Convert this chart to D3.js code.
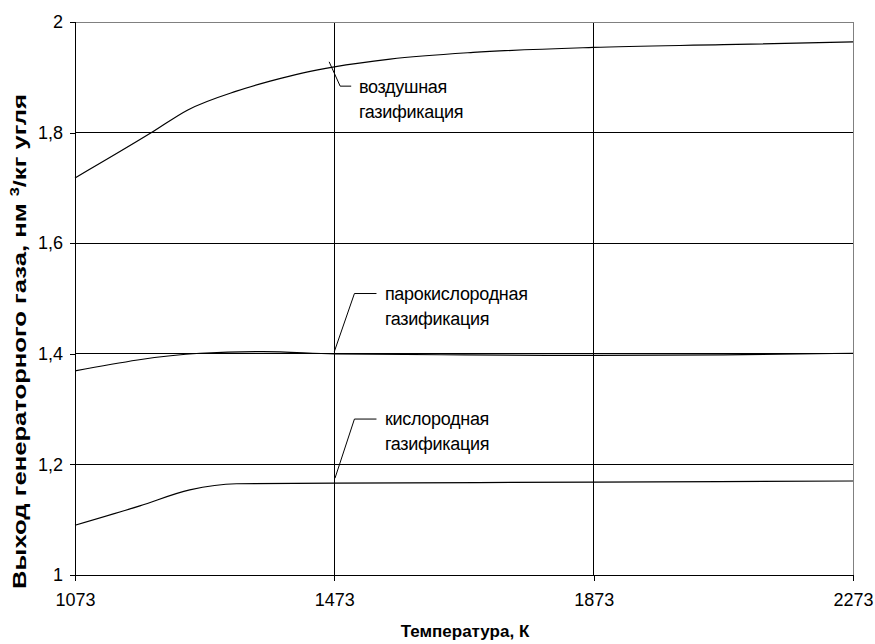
<!DOCTYPE html>
<html>
<head>
<meta charset="utf-8">
<script src="https://cdn.jsdelivr.net/npm/d3@7"></script>
<style>
  body { margin: 0; background: #fff; }
  svg text { font-family: "Liberation Sans", Arial, sans-serif; fill: #000; }
</style>
</head>
<body>
<svg id="chart"></svg>
<script>
// температура, К
const xTicks = [1073, 1473, 1873, 2273];
const yTicks = [1, 1.2, 1.4, 1.6, 1.8, 2];

// воздушная газификация
const tempAir = [1073, 1191, 1247, 1322, 1374, 1425, 1473, 1559, 1687, 1872, 2073, 2273];
const gasAir = [1.718, 1.800, 1.841, 1.875, 1.893, 1.908, 1.919, 1.933, 1.945, 1.954, 1.959, 1.964];

// парокислородная газификация
const tempSteam = [1073, 1266, 1363, 1473, 1673, 1873, 2073, 2273];
const gasSteam = [1.369, 1.401, 1.404, 1.400, 1.398, 1.397, 1.398, 1.401];

// кислородная газификация
const tempOxy = [1073, 1173, 1250, 1322, 1473, 1873, 2273];
const gasOxy = [1.090, 1.125, 1.154, 1.165, 1.166, 1.168, 1.170];

// подписи кривых (в координатах графика)
const labelLines = [["воздушная", "газификация"], ["парокислородная", "газификация"], ["кислородная", "газификация"]];
const leaderT = [[1465, 1482, 1499], [1473, 1504, 1538], [1474, 1504, 1538]];
const leaderV = [[1.928, 1.884, 1.884], [1.404, 1.509, 1.509], [1.175, 1.282, 1.282]];
const labelT = [1511, 1551, 1551];
const labelV = [1.872, 1.497, 1.271];

const width = 875, height = 644;
const margin = { top: 22, right: 22, bottom: 69, left: 75 };

const svg = d3.select("#chart").attr("width", width).attr("height", height);

const x = d3.scaleLinear().domain([1073, 2273]).range([margin.left, width - margin.right]);
const y = d3.scaleLinear().domain([1, 2]).range([height - margin.bottom, margin.top]);

const fmt = d => String(d).replace(".", ",");

// сетка
const grid = svg.append("g").attr("shape-rendering", "crispEdges");
grid.selectAll(".hgrid")
    .data(yTicks.filter(d => d > 1 && d < 2))
    .enter().append("line")
    .attr("x1", x(1073)).attr("x2", x(2273))
    .attr("y1", d => y(d)).attr("y2", d => y(d))
    .attr("stroke", "#000");
grid.selectAll(".vgrid")
    .data(xTicks.filter(d => d > 1073 && d < 2273))
    .enter().append("line")
    .attr("x1", d => x(d)).attr("x2", d => x(d))
    .attr("y1", y(1)).attr("y2", y(2))
    .attr("stroke", "#000");
// рамка области построения
grid.append("line")
    .attr("x1", x(1073)).attr("x2", x(2273)).attr("y1", y(2)).attr("y2", y(2))
    .attr("stroke", "#808080");
grid.append("line")
    .attr("x1", x(2273)).attr("x2", x(2273)).attr("y1", y(2)).attr("y2", y(1))
    .attr("stroke", "#808080");

// оси
const axisY = d3.axisLeft(y).tickValues(yTicks).tickFormat(fmt).tickSize(5).tickPadding(7);
const gY = svg.append("g")
    .attr("transform", `translate(${x(1073)},0)`)
    .call(axisY);
const axisX = d3.axisBottom(x).tickValues(xTicks).tickFormat(d => d).tickSize(6).tickPadding(12);
const gX = svg.append("g")
    .attr("transform", `translate(0,${y(1)})`)
    .call(axisX);
[gX, gY].forEach(g => {
    g.attr("shape-rendering", "crispEdges");
    g.select(".domain").remove();
    g.selectAll("line").attr("stroke", "#000");
    g.selectAll("text").attr("font-size", 18).attr("fill", "#000");
});
svg.append("line")
    .attr("x1", x(1073)).attr("x2", x(1073)).attr("y1", y(2)).attr("y2", y(1))
    .attr("stroke", "#000").attr("shape-rendering", "crispEdges");
svg.append("line")
    .attr("x1", x(1073)).attr("x2", x(2273)).attr("y1", y(1)).attr("y2", y(1))
    .attr("stroke", "#000").attr("shape-rendering", "crispEdges");

// подписи: белые подложки
const labels = svg.append("g");
labelLines.forEach((lines, i) => {
    const g = labels.append("g");
    const box = g.append("rect").attr("fill", "#fff");
    const t = g.append("text")
        .attr("x", x(labelT[i]))
        .attr("y", y(labelV[i]))
        .attr("font-size", 18)
        .attr("letter-spacing", -0.3);
    lines.forEach((s, j) => {
        t.append("tspan").attr("x", x(labelT[i])).attr("dy", j === 0 ? 0 : 25).text(s);
    });
    const bb = t.node().getBBox();
    box.attr("x", bb.x - 2).attr("y", bb.y - 4)
       .attr("width", bb.width + 14).attr("height", bb.height + 12);
});

// кривые
const line = d3.line().x(d => x(d[0])).y(d => y(d[1])).curve(d3.curveMonotoneX);
const series = [
    d3.zip(tempAir, gasAir),
    d3.zip(tempSteam, gasSteam),
    d3.zip(tempOxy, gasOxy)
];
svg.selectAll(".curve")
    .data(series)
    .enter().append("path")
    .attr("class", "curve")
    .attr("d", line)
    .attr("fill", "none")
    .attr("stroke", "#000")
    .attr("stroke-width", 1.2);

// выноски
const leader = d3.line().x(d => x(d[0])).y(d => y(d[1]));
leaderT.forEach((ts, i) => {
    svg.append("path")
        .attr("d", leader(d3.zip(ts, leaderV[i])))
        .attr("fill", "none")
        .attr("stroke", "#000")
        .attr("stroke-width", 1);
});

// названия осей
svg.append("text")
    .attr("x", (x(1073) + x(2273)) / 2 + 1)
    .attr("y", 637)
    .attr("text-anchor", "middle")
    .attr("font-size", 17)
    .attr("font-weight", "bold")
    .text("Температура, К");

const yTitle = svg.append("text")
    .attr("transform", `translate(26,${(93 + 590) / 2}) rotate(-90)`)
    .attr("text-anchor", "middle")
    .attr("font-size", 19)
    .attr("font-weight", "bold")
    .attr("textLength", 495)
    .attr("lengthAdjust", "spacingAndGlyphs");
yTitle.append("tspan").text("Выход генераторного газа, нм   ");
yTitle.append("tspan").attr("font-size", 12).attr("dy", -7).text("3");
yTitle.append("tspan").attr("dy", 7).text("/кг угля");
</script>
</body>
</html>
